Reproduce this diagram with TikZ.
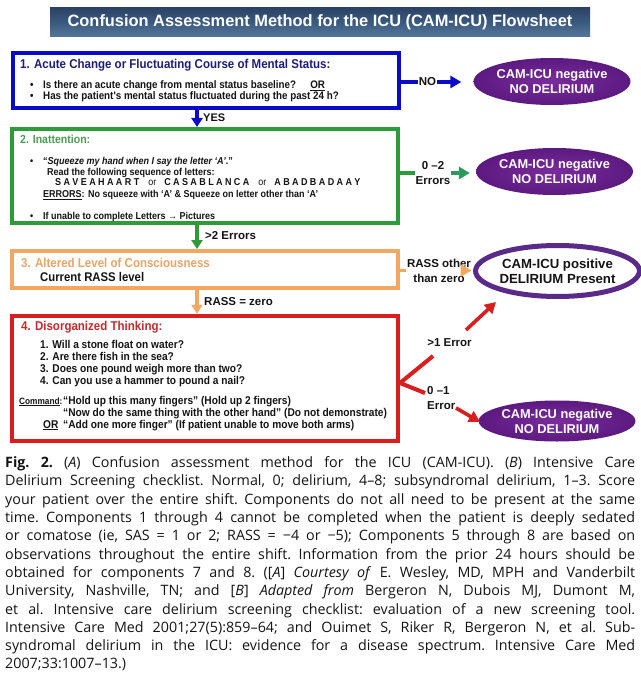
\documentclass[tikz,border=0pt]{standalone}
\usepackage{fontspec}
\setmainfont{Liberation Sans}
\newfontfamily\nar[FakeStretch=0.9]{Liberation Sans}
\newfontfamily\capfont{Open Sans}
\usetikzlibrary{arrows.meta,shapes.geometric,calc}
\definecolor{cblue}{HTML}{0A0AC8}
\definecolor{cnavy}{HTML}{1E1E78}
\definecolor{cgreen}{HTML}{2E9B3A}
\definecolor{cgreenT}{HTML}{4C9E55}
\definecolor{cteal}{HTML}{2A9A5E}
\definecolor{corange}{HTML}{F2A862}
\definecolor{corangeT}{HTML}{E9A466}
\definecolor{cred}{HTML}{D81E1E}
\definecolor{credT}{HTML}{C42A2E}
\definecolor{cpurL}{HTML}{7A2C9C}
\definecolor{cpurD}{HTML}{5C1A80}
\definecolor{cpurB}{HTML}{5A2A88}
\definecolor{cbanT}{HTML}{2B4365}
\definecolor{cbanM}{HTML}{3B5A80}
\definecolor{cbanB}{HTML}{56779C}
\definecolor{ctext}{HTML}{141414}
\newcommand{\ttl}{\nar\bfseries\fontsize{12.8}{14}\selectfont}
\newcommand{\bdy}[1]{\nar\bfseries\fontsize{#1}{13}\selectfont}
\newcommand{\lbl}{\bfseries\fontsize{11.5}{15}\selectfont}
\newcommand{\blt}{\makebox[13pt][l]{\textbullet}}
\begin{document}
\begin{tikzpicture}[x=1pt,y=-1pt,
  box/.style={draw, line width=4pt, minimum width=386pt, inner sep=0pt, fill=white},
  tx/.style={anchor=base west, inner sep=0pt, text=ctext},
  lab/.style={inner sep=1pt, font=\lbl, text=ctext, align=center},
  ell/.style={ellipse, inner sep=0pt, align=center, text=white,
     font=\bfseries\fontsize{12.8}{15}\selectfont, shade, inner color=cpurL, outer color=cpurD},
  arr/.style={line width=3.6pt, -{Triangle[length=11pt,width=12pt]}},
  varr/.style={line width=3.6pt, -{Triangle[length=9pt,width=11pt]}},
  seg/.style={line width=3.6pt}]
\useasboundingbox (0,0) rectangle (640,676);
\fill[white] (0,0) rectangle (640,676);
% title banner
\node[minimum width=540pt, minimum height=29pt, inner sep=0pt,
  top color=cbanT, bottom color=cbanB, middle color=cbanM,
  text=white, font=\bfseries\fontsize{16.4}{18}\selectfont] (banner) at (320,22.5)
  {Confusion Assessment Method for the ICU (CAM-ICU) Flowsheet};
% boxes
\node[box, draw=cblue, minimum height=55pt] (b1) at (205.5,80.5) {};
\node[box, draw=cgreen, minimum height=94pt] (b2) at (205,176) {};
\node[box, draw=corange, minimum height=37pt] (b3) at (205,269.5) {};
\node[box, draw=cred, line width=4.5pt, minimum height=125pt] (b4) at (205,378.5) {};
% box 1 text
\node[tx, font=\ttl, text=cnavy] (t1) at (20,68.5) {1. Acute Change or Fluctuating Course of Mental Status:};
\node[tx, font=\bdy{10.9}] (t1a) at (30,89) {\blt Is there an acute change from mental status baseline?\hspace{1.3em}\underline{OR}};
\node[tx, font=\bdy{10.9}] (t1b) at (30,100) {\blt Has the patient's mental status fluctuated during the past 24 h?};
% box 2 text
\node[tx, font=\nar\bfseries\fontsize{11.7}{13}\selectfont, text=cgreenT] (t2) at (20,143.2) {2. Inattention:};
\node[tx, font=\bdy{10}] (t2a) at (30,164.6) {\blt “\textit{Squeeze my hand when I say the letter ‘A’}.”};
\node[tx, font=\bdy{10}] (t2b) at (47,175.1) {Read the following sequence of letters:};
\node[tx, font=\bdy{10}] (t2c) at (55,185.6) {{\spaceskip=2.4pt\relax S A V E A H A A R T}\hspace{9pt}{\mdseries or}\hspace{8pt}{\spaceskip=2.4pt\relax C A S A B L A N C A}\hspace{9pt}{\mdseries or}\hspace{8pt}{\spaceskip=2.4pt\relax A B A D B A D A A Y}};
\node[tx, font=\bdy{10}] (t2d) at (43,197.6) {\underline{ERRORS}: No squeeze with ‘A’ \& Squeeze on letter other than ‘A’};
\node[tx, font=\bdy{10}] (t2e) at (30,219.6) {\blt If unable to complete Letters → Pictures};
% box 3 text
\node[tx, font=\ttl, text=corangeT] (t3) at (21,267.5) {3. Altered Level of Consciousness};
\node[tx, font=\bdy{12.6}] (t3a) at (40,281.5) {Current RASS level};
% box 4 text
\node[tx, font=\ttl, text=credT] (t4) at (21,330.5) {4. Disorganized Thinking:};
\node[tx, font=\bdy{11.3}] (q1) at (40,348) {1. Will a stone float on water?};
\node[tx, font=\bdy{11.3}] (q2) at (40,360) {2. Are there fish in the sea?};
\node[tx, font=\bdy{11.3}] (q3) at (40,372) {3. Does one pound weigh more than two?};
\node[tx, font=\bdy{11.3}] (q4) at (40,384) {4. Can you use a hammer to pound a nail?};
\node[tx, font=\bdy{9.2}] (c0) at (19,404) {\underline{Command}:};
\node[tx, font=\bdy{11.3}] (c1) at (63,404) {“Hold up this many fingers” (Hold up 2 fingers)};
\node[tx, font=\bdy{11.3}] (c2) at (63,416) {“Now do the same thing with the other hand” (Do not demonstrate)};
\node[tx, font=\bdy{11.3}] (c3o) at (43,428) {\underline{OR}};
\node[tx, font=\bdy{11.3}] (c3) at (63,428) {“Add one more finger” (If patient unable to move both arms)};
% outcome ellipses
\node[ell, minimum width=142pt, minimum height=47pt] (e1) at (552,81.5) {CAM-ICU negative\\NO DELIRIUM};
\node[ell, minimum width=143pt, minimum height=47pt] (e2) at (554.5,171.5) {CAM-ICU negative\\NO DELIRIUM};
\node[ellipse, draw=cpurB, line width=5pt, fill=white, inner sep=0pt, align=center, text=ctext,
  font=\bfseries\fontsize{13.2}{15}\selectfont, minimum width=136pt, minimum height=51pt] (e3) at (557.5,271) {CAM-ICU positive\\DELIRIUM Present};
\node[ell, minimum width=142pt, minimum height=41pt] (e4) at (557,421) {CAM-ICU negative\\NO DELIRIUM};
% vertical arrows
\coordinate (ax) at (197,0);
\draw[cblue, varr] (b1.south -| ax) -- (b2.north -| ax);
\node[tx, font=\bfseries\fontsize{11}{13}\selectfont] (yes) at (203,122) {YES};
\draw[cgreen, varr] (b2.south -| ax) -- (b3.north -| ax);
\node[tx, font=\lbl] (gt2) at (205,239.5) {>2 Errors};
\draw[corange, varr] (b3.south -| ax) -- (b4.north -| ax);
\node[tx, font=\lbl] (rz) at (204,305) {RASS = zero};
% NO
\node[lab] (no) at (427.5,82) {NO};
\draw[cblue, seg] (b1.east |- no) -- (no.west);
\draw[cblue, arr, shorten >=12pt] (no.east) -- (e1.west |- no);
% 0-2 errors
\node[lab] (l02) at (433,173) {0 –2\\Errors};
\draw[cgreen, seg] (b2.east |- l02) -- (l02.west);
\draw[cteal, arr, shorten >=6pt] (l02.east) -- (e2.west |- l02);
% RASS other than zero
\node[lab] (lr) at (439,270.5) {RASS other\\than zero};
\draw[corange, seg] (b3.east |- lr) -- (lr.west);
\draw[corange, arr, shorten >=1.5pt] ([xshift=-7pt]lr.east) -- (e3.west |- lr);
% disorganized thinking fork
\coordinate (f0) at (400,383);
\coordinate (f1) at (433,356);
\coordinate (f2) at (425,393);
\draw[cred, line width=4pt] (f1) -- (f0) -- (f2);
\node[lab] (l1) at (449.5,343) {>1 Error};
\node[lab, align=left, anchor=west] (l01) at (426,398.5) {0 –1\\Error};
\coordinate (u0) at (466,330);
\coordinate (u1) at (496,302);
\draw[cred, arr] (u0) -- (u1);
\coordinate (d0) at (456,408);
\coordinate (d1) at (480,422);
\draw[cred, arr] (d0) -- (d1);
% caption
\node[anchor=north west, inner sep=0pt, text width=630pt, align=justify, text=ctext,
  font=\capfont\fontsize{14.3}{18.3}\selectfont] (cap) at (5,456.5)
  {\frenchspacing\tolerance=10000\hyphenpenalty=10000\relax
  \textbf{Fig. 2.} (\textit{A}) Confusion assessment method for the ICU (CAM-ICU). (\textit{B}) Intensive Care\linebreak
  Delirium Screening checklist. Normal, 0; delirium, 4–8; subsyndromal delirium, 1–3. Score\linebreak
  your patient over the entire shift. Components do not all need to be present at the same\linebreak
  time. Components 1 through 4 cannot be completed when the patient is deeply sedated\linebreak
  or comatose (ie, SAS = 1 or 2; RASS = −4 or −5); Components 5 through 8 are based on\linebreak
  observations throughout the entire shift. Information from the prior 24 hours should be\linebreak
  obtained for components 7 and 8. ([\textit{A}] \textit{Courtesy of} E. Wesley, MD, MPH and Vanderbilt\linebreak
  University, Nashville, TN; and [\textit{B}] \textit{Adapted from} Bergeron N, Dubois MJ, Dumont M,\linebreak
  et al. Intensive care delirium screening checklist: evaluation of a new screening tool.\linebreak
  Intensive Care Med 2001;27(5):859–64; and Ouimet S, Riker R, Bergeron N, et al. Sub-\linebreak
  syndromal delirium in the ICU: evidence for a disease spectrum. Intensive Care Med\linebreak
  2007;33:1007–13.)};
\end{tikzpicture}
\end{document}
